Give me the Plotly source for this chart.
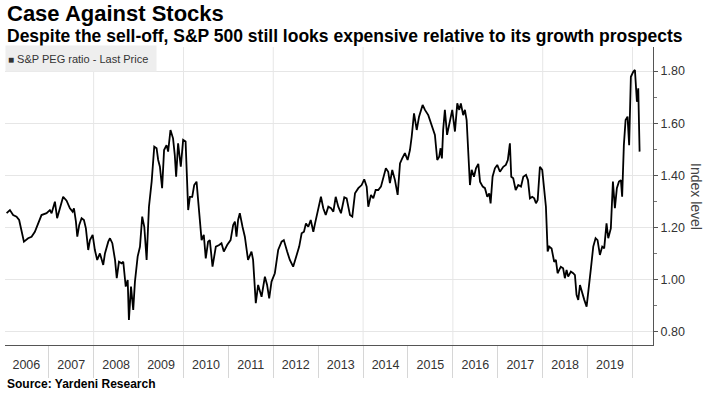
import plotly.graph_objects as go

TITLE = "Case Against Stocks"
SUBTITLE = "Despite the sell-off, S&P 500 still looks expensive relative to its growth prospects"
SERIES_NAME = "S&P PEG ratio - Last Price"
SOURCE = "Source: Yardeni Research"
Y_TITLE = "Index level"

DATES = [
    "2006-01-23", "2006-02-19", "2006-03-17", "2006-04-14", "2006-05-05", "2006-05-25", "2006-06-13",
    "2006-07-17", "2006-08-14", "2006-09-10", "2006-10-15", "2006-11-03", "2006-12-14",
    "2007-01-10", "2007-01-24", "2007-02-20", "2007-03-10", "2007-04-01", "2007-04-28", "2007-05-26",
    "2007-06-22", "2007-07-14", "2007-07-25", "2007-08-10", "2007-08-21", "2007-09-06", "2007-09-25",
    "2007-10-14", "2007-10-30", "2007-11-18", "2007-12-02", "2007-12-24",
    "2008-01-11", "2008-01-30", "2008-02-21", "2008-03-19", "2008-04-02", "2008-04-29", "2008-05-13",
    "2008-06-01", "2008-06-23", "2008-07-07", "2008-07-25", "2008-08-16", "2008-08-29", "2008-09-18",
    "2008-10-04", "2008-10-14", "2008-10-31", "2008-11-18", "2008-12-02", "2008-12-24",
    "2009-01-12", "2009-01-30", "2009-02-16", "2009-03-07", "2009-03-26", "2009-04-17", "2009-05-08",
    "2009-05-27", "2009-06-09", "2009-06-23", "2009-07-11", "2009-07-27", "2009-08-16", "2009-08-29",
    "2009-09-17", "2009-10-08", "2009-10-22", "2009-11-02", "2009-11-18", "2009-12-10", "2009-12-29",
    "2010-01-18", "2010-02-08", "2010-02-22", "2010-03-13", "2010-03-29", "2010-04-17", "2010-05-08",
    "2010-05-28", "2010-06-15", "2010-07-01", "2010-07-20", "2010-08-03", "2010-08-25", "2010-09-21",
    "2010-10-18", "2010-11-06", "2010-11-25", "2010-12-22",
    "2011-01-19", "2011-02-09", "2011-02-23", "2011-03-08", "2011-03-21", "2011-04-04", "2011-04-26",
    "2011-05-15", "2011-06-10", "2011-07-08", "2011-07-21", "2011-08-12", "2011-08-31", "2011-09-28",
    "2011-10-25", "2011-11-12", "2011-11-29", "2011-12-18",
    "2012-01-14", "2012-02-10", "2012-03-09", "2012-03-27", "2012-04-23", "2012-05-15", "2012-06-11",
    "2012-07-03", "2012-07-30", "2012-08-19", "2012-09-07", "2012-09-23", "2012-10-12", "2012-11-01",
    "2012-11-22", "2012-12-06", "2012-12-28",
    "2013-01-23", "2013-02-11", "2013-03-03", "2013-03-24", "2013-04-15", "2013-05-04", "2013-05-23",
    "2013-06-13", "2013-07-05", "2013-08-01", "2013-08-20", "2013-09-16", "2013-10-05", "2013-10-27",
    "2013-11-23", "2013-12-20",
    "2014-01-10", "2014-01-30", "2014-02-12", "2014-03-06", "2014-03-25", "2014-04-13", "2014-05-04",
    "2014-05-26", "2014-06-13", "2014-07-05", "2014-07-24", "2014-08-07", "2014-08-26", "2014-09-17",
    "2014-10-09", "2014-10-28", "2014-11-15", "2014-12-07", "2014-12-29",
    "2015-01-17", "2015-01-31", "2015-02-19", "2015-03-13", "2015-04-01", "2015-04-30", "2015-05-19",
    "2015-06-15", "2015-07-12", "2015-08-08", "2015-08-27", "2015-09-12", "2015-09-23", "2015-10-04",
    "2015-10-14", "2015-10-28", "2015-11-15", "2015-12-07", "2015-12-27",
    "2016-01-18", "2016-02-06", "2016-02-22", "2016-03-06", "2016-03-25", "2016-04-08", "2016-04-22",
    "2016-05-05", "2016-05-19", "2016-06-02", "2016-06-21", "2016-07-07", "2016-07-26", "2016-08-09",
    "2016-08-31", "2016-09-18", "2016-10-07", "2016-10-23", "2016-11-03", "2016-11-19", "2016-12-08",
    "2016-12-27",
    "2017-01-18", "2017-02-14", "2017-03-07", "2017-03-23", "2017-04-09", "2017-04-20", "2017-05-06",
    "2017-05-26", "2017-06-16", "2017-07-08", "2017-07-27", "2017-08-18", "2017-09-03", "2017-09-19",
    "2017-10-08", "2017-10-24", "2017-11-07", "2017-11-21", "2017-12-09", "2017-12-28",
    "2018-01-13", "2018-01-27", "2018-02-10", "2018-02-23", "2018-03-14", "2018-04-04", "2018-04-18",
    "2018-05-02", "2018-05-28", "2018-06-16", "2018-06-30", "2018-07-14", "2018-07-27", "2018-08-18",
    "2018-09-06", "2018-09-20", "2018-10-03", "2018-10-17", "2018-10-31", "2018-11-18", "2018-12-05",
    "2018-12-24",
    "2019-01-12", "2019-01-28", "2019-02-16", "2019-03-07", "2019-03-23", "2019-04-11", "2019-04-30",
    "2019-05-16", "2019-06-04", "2019-06-18", "2019-07-09", "2019-07-26", "2019-08-11", "2019-08-27",
    "2019-09-13", "2019-09-29", "2019-10-09", "2019-10-23", "2019-11-06", "2019-11-22", "2019-12-05",
    "2019-12-19",
    "2020-01-07", "2020-01-21", "2020-02-06", "2020-02-17", "2020-02-28",
]

PEG = [
    1.255, 1.267, 1.248, 1.242, 1.229, 1.184, 1.146,
    1.159, 1.165, 1.184, 1.229, 1.248, 1.255,
    1.267, 1.255, 1.299, 1.236, 1.274, 1.318, 1.303,
    1.274, 1.261, 1.274, 1.223, 1.165, 1.210, 1.236,
    1.229, 1.197, 1.114, 1.152, 1.172,
    1.114, 1.076, 1.101, 1.057, 1.101, 1.146, 1.159,
    1.140, 1.076, 1.006, 1.069, 1.063, 1.069, 0.974,
    0.999, 0.846, 0.974, 0.884, 0.993, 1.089,
    1.127, 1.242, 1.203, 1.076, 1.280, 1.376, 1.510,
    1.504, 1.459, 1.433, 1.351, 1.497, 1.516, 1.491,
    1.574, 1.542, 1.478, 1.395, 1.523, 1.433, 1.536,
    1.530, 1.267, 1.318, 1.318, 1.363, 1.376, 1.261,
    1.152, 1.172, 1.082, 1.146, 1.152, 1.050, 1.127,
    1.133, 1.140, 1.108, 1.133,
    1.152, 1.210, 1.223, 1.165, 1.229, 1.255, 1.203,
    1.165, 1.076, 1.108, 1.076, 0.910, 0.980, 0.935,
    1.012, 0.980, 0.929, 0.993,
    1.025, 1.114, 1.146, 1.152, 1.108, 1.076, 1.050,
    1.089, 1.127, 1.178, 1.184, 1.216, 1.203, 1.229,
    1.184, 1.216, 1.267,
    1.318, 1.274, 1.248, 1.280, 1.274, 1.261, 1.318,
    1.280, 1.255, 1.316, 1.312, 1.248, 1.242, 1.331,
    1.351, 1.363,
    1.385, 1.357, 1.280, 1.325, 1.312, 1.344, 1.344,
    1.357, 1.389, 1.427, 1.414, 1.370, 1.421, 1.382,
    1.325, 1.446, 1.465, 1.485, 1.459,
    1.497, 1.548, 1.638, 1.574, 1.625, 1.670, 1.651,
    1.631, 1.593, 1.555, 1.459, 1.472, 1.504, 1.465,
    1.574, 1.651, 1.555, 1.612, 1.651,
    1.568, 1.676, 1.651, 1.676, 1.631, 1.651, 1.612,
    1.497, 1.363, 1.421, 1.395, 1.427, 1.444, 1.376,
    1.357, 1.351, 1.318, 1.331, 1.293, 1.395, 1.427,
    1.440,
    1.414, 1.433, 1.440, 1.459, 1.523, 1.395, 1.389,
    1.344, 1.363, 1.357, 1.395, 1.402, 1.382, 1.312,
    1.318, 1.312, 1.293, 1.306, 1.433, 1.421,
    1.338, 1.280, 1.108, 1.127, 1.120, 1.069, 1.076,
    1.025, 1.050, 1.044, 1.006, 1.038, 1.012, 1.031,
    1.025, 1.018, 0.942, 0.923, 0.980, 0.948, 0.923,
    0.897,
    0.967, 1.044, 1.127, 1.159, 1.152, 1.095, 1.127,
    1.120, 1.216, 1.159, 1.197, 1.376, 1.274, 1.351,
    1.376, 1.382, 1.318, 1.516, 1.612, 1.625, 1.516,
    1.778,
    1.797, 1.804, 1.682, 1.734, 1.491,
]

Y_TICKS = [0.8, 1.0, 1.2, 1.4, 1.6, 1.8]
X_RANGE = ["2006-01-10", "2020-06-16"]
Y_RANGE = [0.750, 1.892]
GRID_YEARS = list(range(2008, 2021, 2))

FONT = "Liberation Sans, Arial, sans-serif"
TXT = "#333333"

fig = go.Figure()
fig.add_trace(go.Scatter(
    x=DATES, y=PEG, mode="lines", name=SERIES_NAME,
    line=dict(color="#000000", width=1.8), showlegend=False,
))

for yr in GRID_YEARS:
    fig.add_shape(type="line", xref="x", yref="paper",
                  x0=f"{yr}-01-01", x1=f"{yr}-01-01", y0=0, y1=1,
                  line=dict(color="#e6e6e6", width=1), layer="below")

fig.update_layout(
    width=709, height=393,
    margin=dict(l=5, r=56, t=47, b=48),
    paper_bgcolor="white", plot_bgcolor="white",
    font=dict(family=FONT, color=TXT),
    showlegend=False,
    xaxis=dict(
        type="date", range=X_RANGE,
        tick0="2006-01-01", dtick="M12", tickformat="%Y",
        ticklabelmode="period",
        ticks="outside", ticklen=32, tickcolor="#d6d6d6", tickwidth=1,
        ticklabelstandoff=-24,
        tickfont=dict(size=12.5, color=TXT),
        showgrid=False, zeroline=False,
        showline=True, linecolor="#555555", linewidth=1,
    ),
    yaxis=dict(
        side="right", range=Y_RANGE,
        tickvals=Y_TICKS, tickformat=".2f",
        ticks="outside", ticklen=4, tickcolor="#555555",
        tickfont=dict(size=12.5, color=TXT),
        showgrid=True, gridcolor="#e6e6e6", gridwidth=1,
        zeroline=False,
        showline=True, linecolor="#555555", linewidth=1,
        minor=dict(tick0=0.8, dtick=0.1, ticks="outside", ticklen=3,
                   tickcolor="#777777", showgrid=False),
    ),
)

# Titles
fig.add_annotation(text=f"<b>{TITLE}</b>", xref="paper", yref="paper",
                   x=0, y=(345 + 1) / 298, xanchor="left", yanchor="top",
                   showarrow=False, font=dict(size=22, color="#000000", family=FONT))
fig.add_annotation(text=f"<b>{SUBTITLE}</b>", xref="paper", yref="paper",
                   x=0, y=(345 - 24) / 298, xanchor="left", yanchor="top",
                   showarrow=False, font=dict(size=17.5, color="#000000", family=FONT))
# Legend box
fig.add_annotation(text=f"<span style='font-size:10px'>■</span> {SERIES_NAME}",
                   xref="paper", yref="paper", x=0, y=(345 - 45) / 298,
                   xanchor="left", yanchor="top", align="left",
                   width=146, height=21, borderpad=2, bgcolor="#eeeeee",
                   showarrow=False, font=dict(size=11, color=TXT, family=FONT))
# Y-axis title
fig.add_annotation(text=Y_TITLE, xref="paper", yref="paper",
                   x=(696 - 5) / 648, y=0.5, xanchor="center", yanchor="middle",
                   textangle=90, showarrow=False,
                   font=dict(size=14, color="#444444", family=FONT))
# Source
fig.add_annotation(text=f"<b>{SOURCE}</b>", xref="paper", yref="paper",
                   x=0, y=(345 - 375) / 298, xanchor="left", yanchor="top",
                   showarrow=False, font=dict(size=12, color="#000000", family=FONT))

fig.write_html("out.html", config={"displayModeBar": False},
               post_script="document.body.style.margin='0px';")
